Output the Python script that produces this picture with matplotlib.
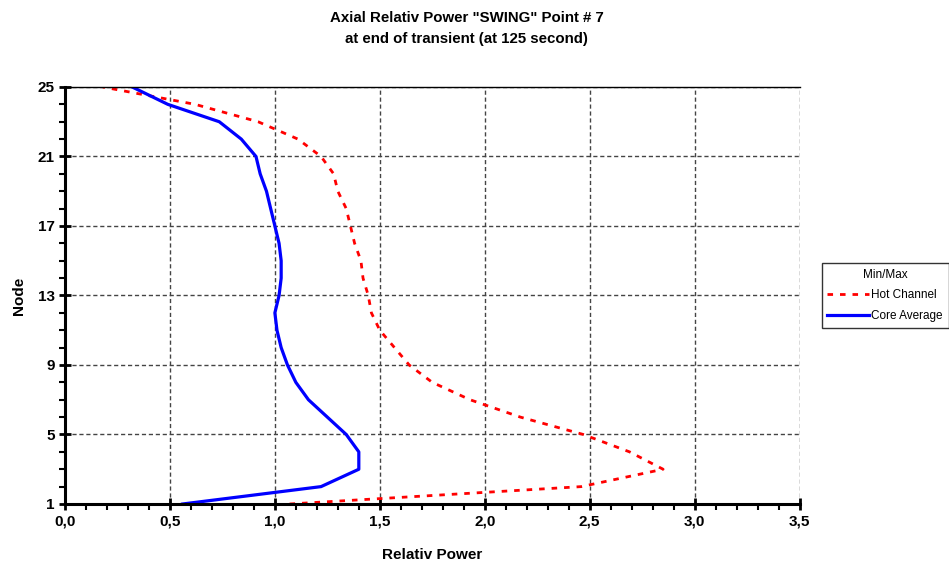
import numpy as np
import matplotlib.pyplot as plt
from matplotlib.ticker import MultipleLocator, FuncFormatter

plt.rcParams['font.family'] = ['Liberation Sans', 'DejaVu Sans']

nodes = list(range(1, 26))
# relative power per node
hot_channel = [1.07, 2.46, 2.85, 2.69, 2.47, 2.17, 1.93, 1.75, 1.64, 1.57, 1.50, 1.46,
               1.445, 1.42, 1.41, 1.38, 1.36, 1.34, 1.30, 1.28, 1.22, 1.11, 0.92, 0.62, 0.18]
core_average = [0.56, 1.22, 1.40, 1.40, 1.34, 1.25, 1.16, 1.10, 1.06, 1.03, 1.01, 1.00,
                1.02, 1.03, 1.03, 1.02, 1.00, 0.98, 0.96, 0.93, 0.91, 0.84, 0.735, 0.49, 0.32]
y_ticks = [1, 5, 9, 13, 17, 21, 25]

fig = plt.figure(figsize=(9.49, 5.70), dpi=100)
ax = fig.add_axes([0.0685, 0.1158, 0.774, 0.7316])

ax.plot(hot_channel, nodes, color='red', lw=2, ls=(0, (2, 2.5)), label='Hot Channel')
ax.plot(core_average, nodes, color='#0000ff', lw=2.3, label='Core Average')

ax.set_xlim(0, 3.5)
ax.set_ylim(1, 25)
ax.xaxis.set_major_locator(MultipleLocator(0.5))
ax.xaxis.set_minor_locator(MultipleLocator(0.1))
ax.set_yticks(y_ticks)
ax.yaxis.set_minor_locator(MultipleLocator(1))
ax.xaxis.set_major_formatter(FuncFormatter(lambda v, p: f'{v:.1f}'.replace('.', ',')))

ax.grid(True, which='major', color='#444444', ls=(0, (3, 2)), lw=1)
ax.tick_params(which='major', direction='inout', length=8, width=2, labelsize=11)
ax.tick_params(which='minor', direction='out', length=4, width=1.5)
for lbl in ax.get_xticklabels() + ax.get_yticklabels():
    lbl.set_fontweight('bold')

ax.spines['left'].set_linewidth(2.2)
ax.spines['bottom'].set_linewidth(2.2)
ax.spines['top'].set_linewidth(1)
ax.spines['right'].set_visible(False)

ax.set_xlabel('Relativ Power', fontsize=11, fontweight='bold', labelpad=14)
ax.set_ylabel('Node', fontsize=11, fontweight='bold', labelpad=8)
fig.text(0.492, 0.98, 'Axial Relativ Power "SWING" Point # 7\nat end of transient (at 125 second)',
         ha='center', va='top', fontsize=10.8, fontweight='bold', linespacing=1.6)

leg = ax.legend(loc='center left', bbox_to_anchor=(1.03, 0.5), title='Min/Max',
                fontsize=8.5, title_fontsize=8.5, frameon=True, fancybox=False,
                edgecolor='black', handlelength=3.5, handletextpad=0.2,
                borderpad=0.5, labelspacing=0.75, borderaxespad=0)
leg.get_frame().set_linewidth(1)

fig.savefig('out.png', dpi=100)
